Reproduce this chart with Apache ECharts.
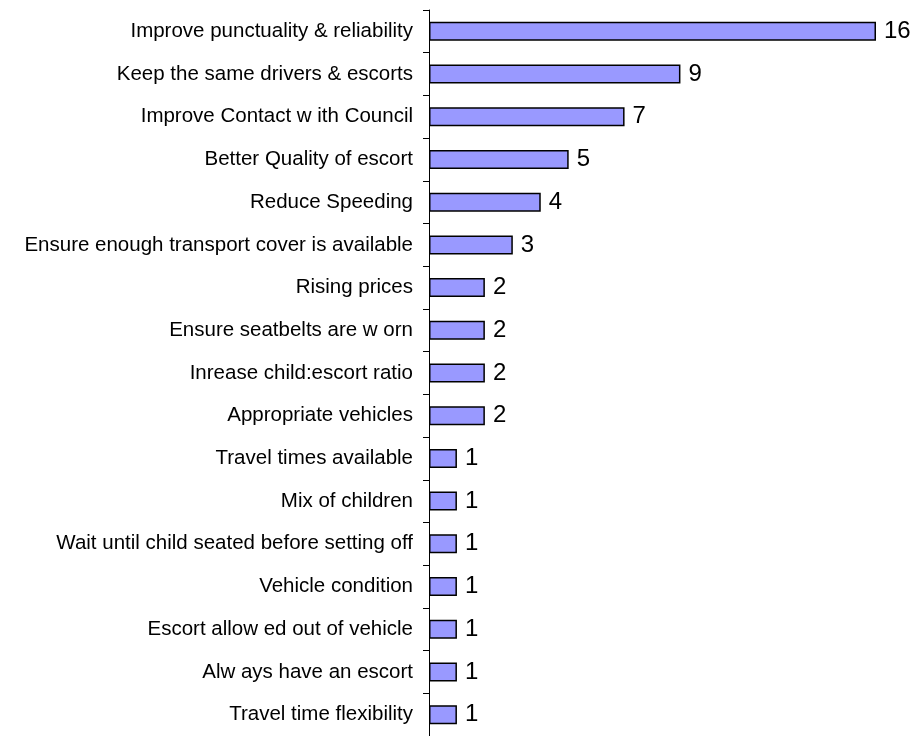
<!DOCTYPE html>
<html>
<head>
<meta charset="utf-8">
<script src="https://cdn.jsdelivr.net/npm/echarts@6/dist/echarts.min.js"></script>
<style>
  html, body { margin: 0; padding: 0; background: #fff; }
  #chart { width: 915px; height: 736px; }
</style>
</head>
<body>
<div id="chart"></div>
<script>
const categories = [
  "Improve punctuality & reliability",
  "Keep the same drivers & escorts",
  "Improve Contact w ith Council",
  "Better Quality of escort",
  "Reduce Speeding",
  "Ensure enough transport cover is available",
  "Rising prices",
  "Ensure seatbelts are w orn",
  "Inrease child:escort ratio",
  "Appropriate vehicles",
  "Travel times available",
  "Mix of children",
  "Wait until child seated before setting off",
  "Vehicle condition",
  "Escort allow ed out of vehicle",
  "Alw ays have an escort",
  "Travel time flexibility"
];
const counts = [16, 9, 7, 5, 4, 3, 2, 2, 2, 2, 1, 1, 1, 1, 1, 1, 1];

const font = "'Liberation Sans', Arial, sans-serif";

const option = {
    animation: false,
    grid: {
        left: 429,
        top: 10,
        width: 447,
        height: 729
    },
    xAxis: {
        type: 'value',
        min: 0,
        max: 16,
        show: false
    },
    yAxis: {
        type: 'category',
        inverse: true,
        data: categories,
        axisLine: {show: true, lineStyle: {color: "#000", width: 1}},
        axisTick: {show: true, length: 6, lineStyle: {color: "#000"}},
        axisLabel: {
            color: "#000",
            fontSize: 20.5,
            fontFamily: font,
            margin: 16
        },
        splitLine: {show: false}
    },
    series: [{
        type: 'bar',
        data: counts,
        barWidth: 19,
        itemStyle: {
            color: "#9999ff",
            borderColor: "#000",
            borderWidth: 1.5
        },
        label: {
            show: true,
            position: 'right',
            distance: 8,
            color: "#000",
            fontSize: 24,
            fontFamily: font
        }
    }]
};

const myChart = echarts.init(document.getElementById('chart'));
myChart.setOption(option);
</script>
</body>
</html>
